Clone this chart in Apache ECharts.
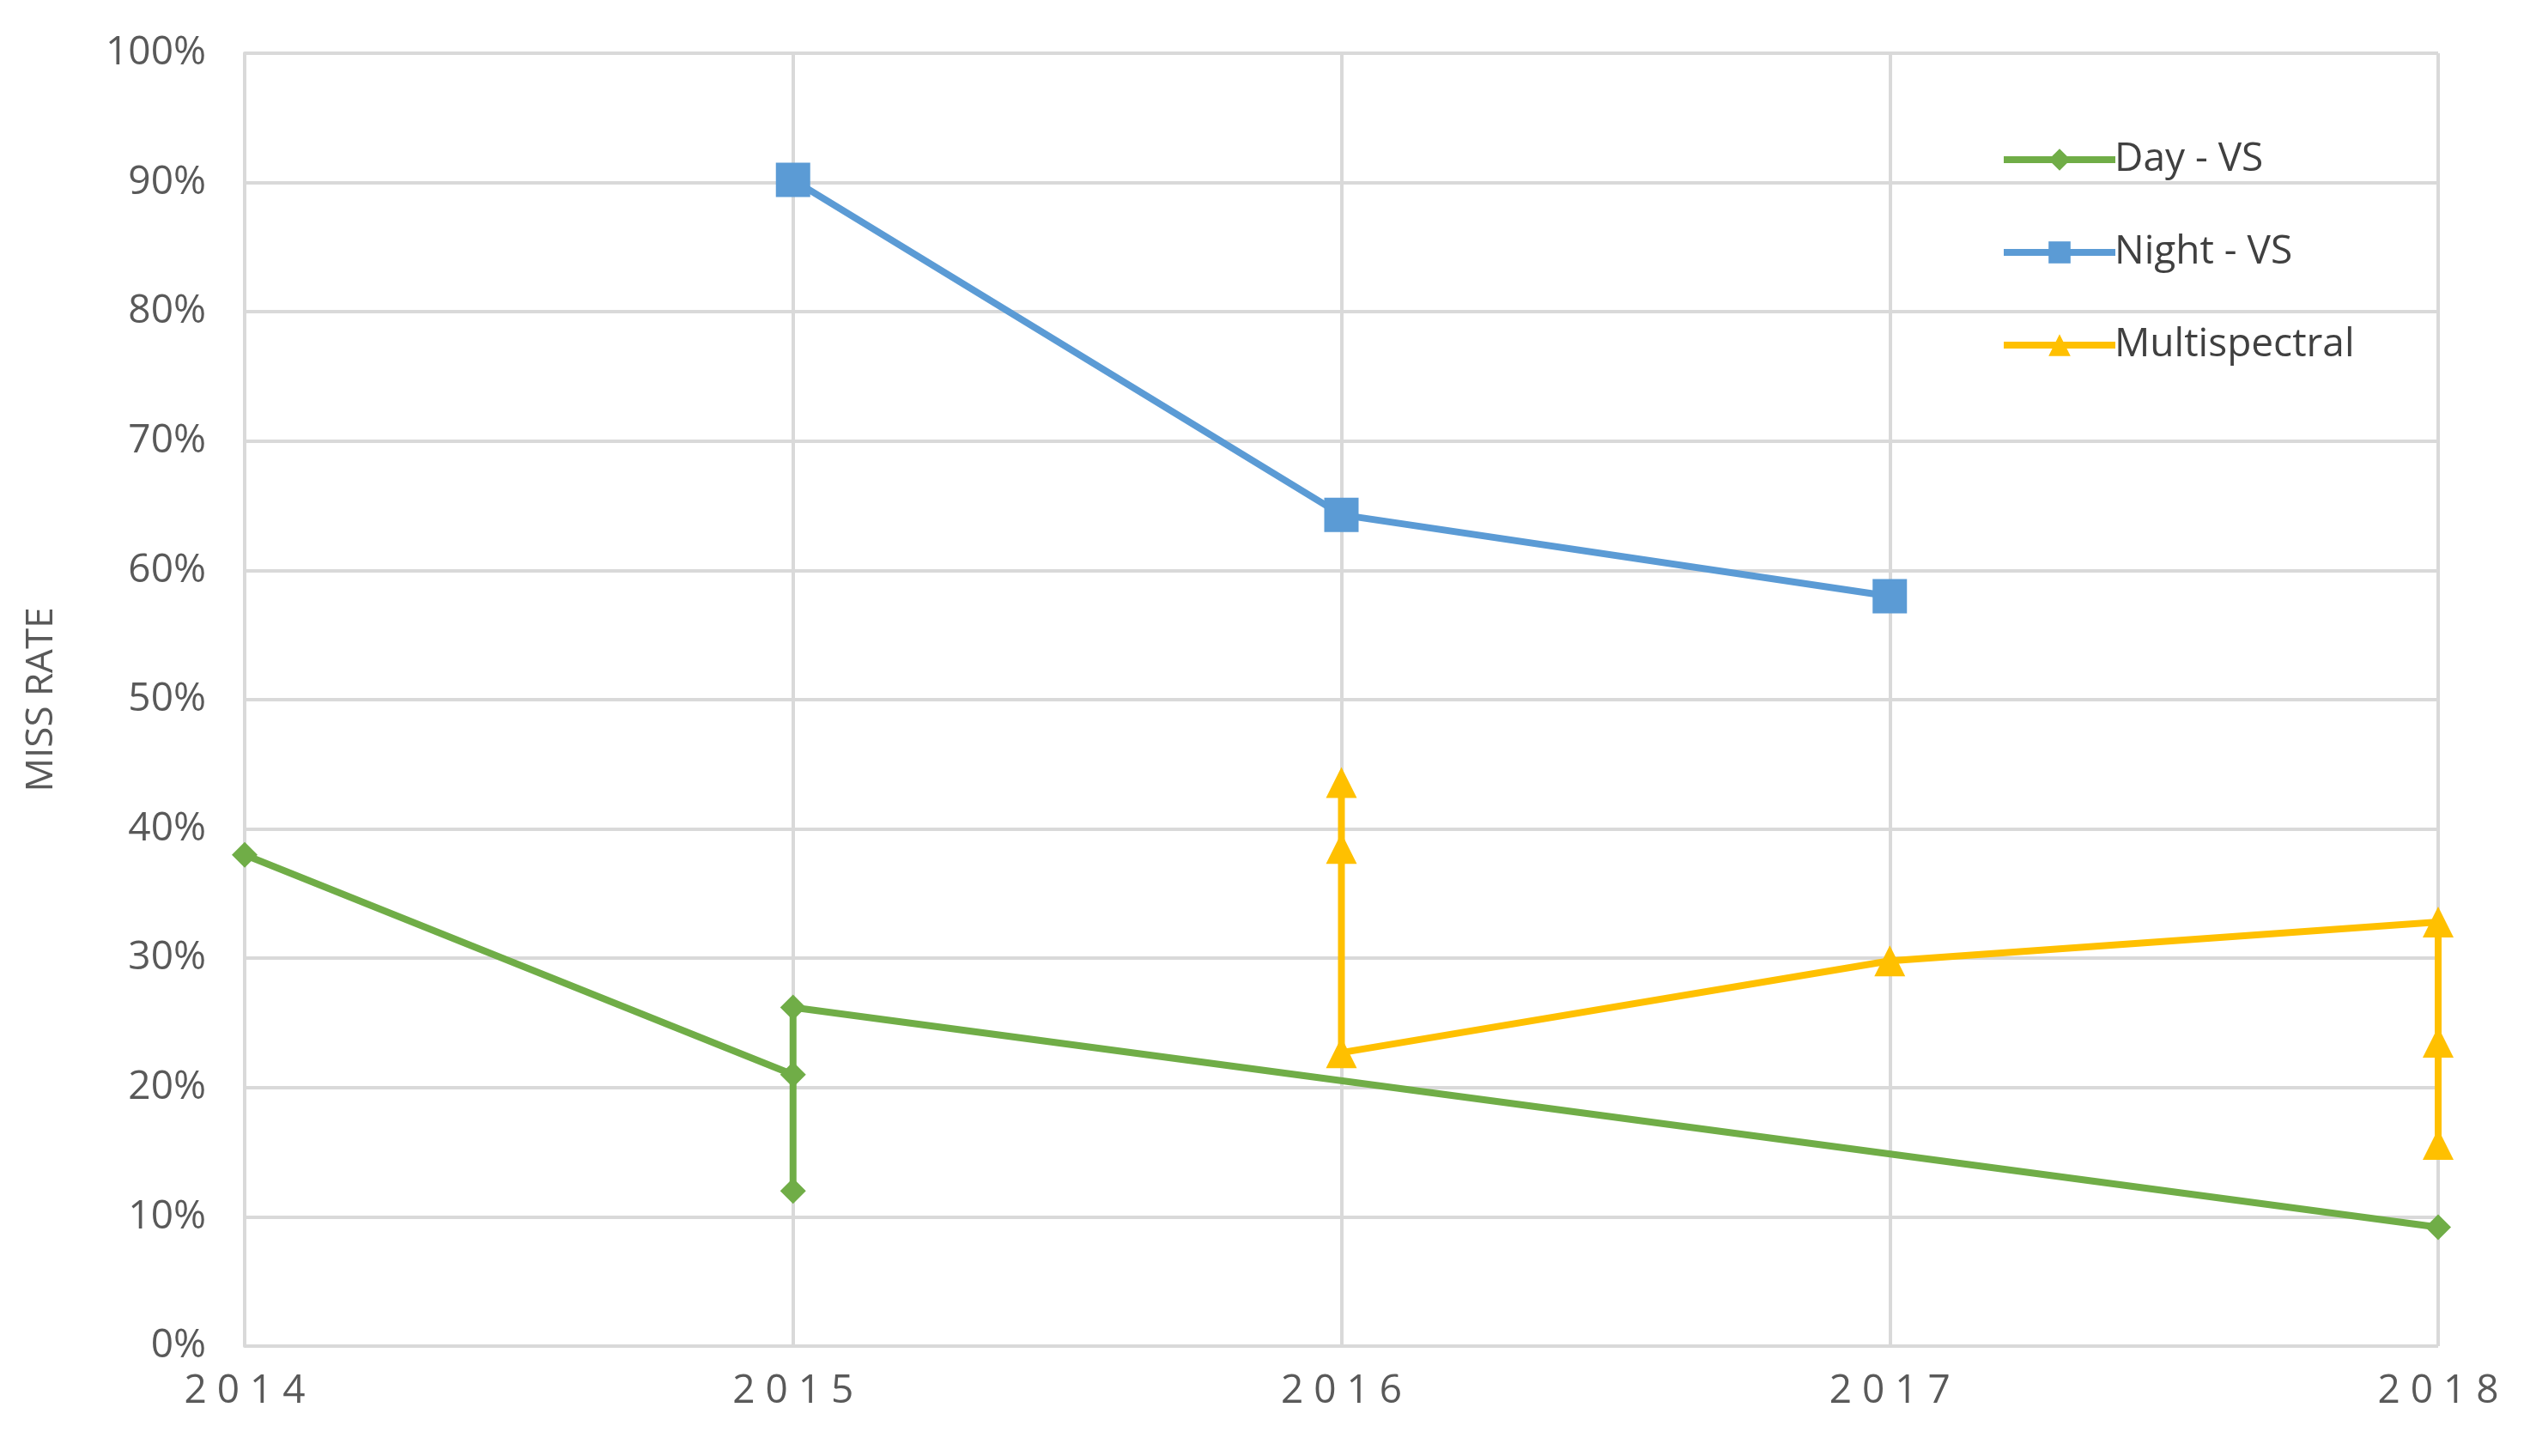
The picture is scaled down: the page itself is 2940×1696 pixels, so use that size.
<!DOCTYPE html>
<html>
<head>
<meta charset="utf-8">
<script src="https://cdn.jsdelivr.net/npm/echarts@6/dist/echarts.min.js"></script>
<style>html,body{margin:0;background:#fff}#main{width:2940px;height:1696px}</style>
</head>
<body>
<div id="main"></div>
<script>
// data: [year, miss rate %]
var dayVS = [[2014, 38], [2015, 21], [2015, 12], [2015, 26.2], [2018, 9.2]];
var nightVS = [[2015, 90.2], [2016, 64.3], [2017, 58]];
var multispectral = [[2016, 43.6], [2016, 38.5], [2016, 22.7], [2017, 29.8], [2018, 32.8], [2018, 23.5], [2018, 15.6]];

var chart = echarts.init(document.getElementById('main'));
var font = 'Open Sans, Liberation Sans, sans-serif';

option = {
    animation: false,
    grid: { left: 285, right: 100, top: 62, bottom: 128 },
    legend: {
        orient: 'vertical',
        left: 2325,
        top: 158,
        itemGap: 62,
        itemWidth: 130,
        itemHeight: 32,
        lineStyle: { width: 8 },
        textStyle: { fontSize: 46, color: '#404040', fontFamily: font, padding: [0, 0, 0, -6] },
        data: ['Day - VS', 'Night - VS', 'Multispectral']
    },
    xAxis: {
        type: 'value',
        min: 2014,
        max: 2018,
        interval: 1,
        axisLine: { show: false },
        axisTick: { show: false },
        splitLine: { lineStyle: { color: '#d9d9d9', width: 4 } },
        axisLabel: {
            fontSize: 46, color: '#595959', fontFamily: font, margin: 30,
            formatter: function (v) { return String(v).split('').join(' '); }
        }
    },
    yAxis: {
        type: 'value',
        min: 0,
        max: 100,
        interval: 10,
        name: 'MISS RATE',
        nameLocation: 'middle',
        nameGap: 215,
        nameTextStyle: { fontSize: 44, color: '#595959', fontFamily: font },
        axisLine: { show: true, lineStyle: { color: '#d9d9d9', width: 4 } },
        axisTick: { show: false },
        splitLine: { lineStyle: { color: '#d9d9d9', width: 4 } },
        axisLabel: { fontSize: 46, color: '#595959', fontFamily: font, margin: 45, formatter: '{value}%' }
    },
    series: [{
        name: 'Day - VS',
        type: 'line',
        data: dayVS,
        symbol: 'diamond',
        symbolSize: 30,
        color: '#70AD47',
        lineStyle: { width: 8 }
    }, {
        name: 'Night - VS',
        type: 'line',
        data: nightVS,
        symbol: 'rect',
        symbolSize: 40,
        color: '#5B9BD5',
        lineStyle: { width: 8 }
    }, {
        name: 'Multispectral',
        type: 'line',
        data: multispectral,
        symbol: 'triangle',
        symbolSize: 36,
        color: '#FFC000',
        lineStyle: { width: 8 }
    }]
};

option && chart.setOption(option);
</script>
</body>
</html>
